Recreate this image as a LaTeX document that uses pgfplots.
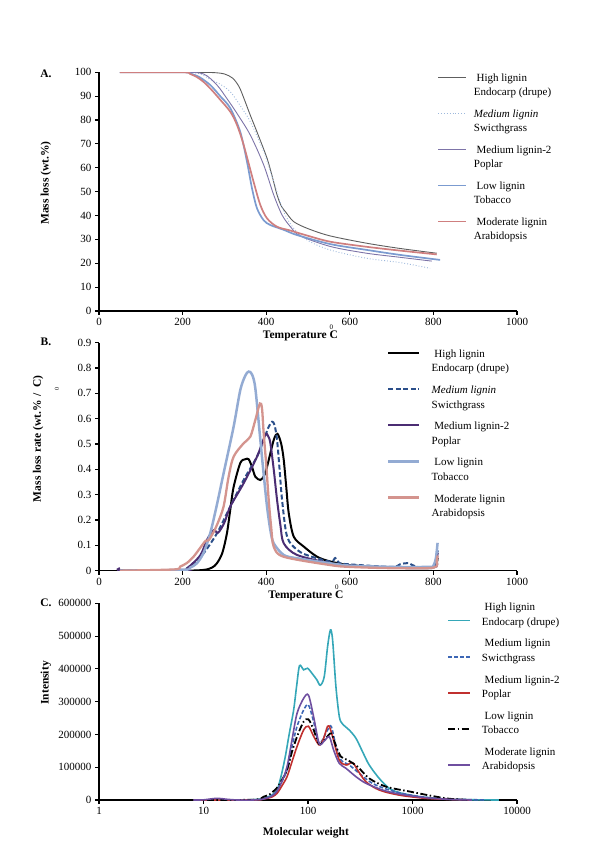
\documentclass[border=0pt]{standalone}
\usepackage{pgfplots}
\pgfplotsset{compat=1.18}
\usepackage{fontspec}
\setmainfont{Liberation Serif}

\definecolor{aHigh}{HTML}{5E5E5E}
\definecolor{aMed}{HTML}{9DB8DC}
\definecolor{aMedTwo}{HTML}{7D74A8}
\definecolor{aLow}{HTML}{7B9BD0}
\definecolor{aMod}{HTML}{CF7F7F}
\definecolor{bMed}{HTML}{2B4F8A}
\definecolor{bMedTwo}{HTML}{4B2D73}
\definecolor{bLow}{HTML}{93ABD3}
\definecolor{bMod}{HTML}{D4948E}
\definecolor{cHigh}{HTML}{35A7B8}
\definecolor{cMed}{HTML}{3D67B5}
\definecolor{cMedTwo}{HTML}{C0302F}
\definecolor{cMod}{HTML}{6F4FA0}

\pgfplotsset{
  common/.style={
    scale only axis, width=418pt,
    axis lines=left, axis line style={-, line width=1.3pt, black},
    tick align=outside, major tick length=4pt,
    tick style={line width=1.1pt, black},
    tick label style={font=\fontsize{11}{13}\selectfont},
    /pgf/number format/assume math mode=true,
    /pgf/number format/1000 sep={},
    label style={font=\bfseries\fontsize{11.5}{13}\selectfont},
    legend cell align=left,
    legend style={draw=none, fill=none, inner sep=0pt, row sep=7pt,
      nodes={inner sep=1pt}, font=\fontsize{11}{14.5}\selectfont},
  },
}

\begin{document}
\begin{tikzpicture}
\path[use as bounding box] (0pt,0pt) rectangle (600pt,844pt);

% ---------------- Panel A ----------------
\begin{axis}[common, at={(99pt,533pt)}, anchor=south west, height=238.7pt,
  xmin=0, xmax=1000, ymin=0, ymax=100,
  xtick={0,200,...,1000}, ytick={0,10,...,100},
  xlabel={Temperature \makebox[0pt][l]{\raisebox{1.7ex}{\normalfont\fontsize{7}{8}\selectfont 0}}C},
  ylabel={Mass loss (wt.\%)},
  xlabel style={at={(axis description cs:0.482,-0.09)}, anchor=center},
  ylabel style={at={(axis description cs:-0.127,0.536)}, anchor=center},
  legend style={at={(0.8086,1.0096)}, anchor=north west, column sep=6pt, row sep=7.8pt},
  legend image code/.code={\draw[#1] (0pt,6.5pt) -- (28pt,6.5pt);},
]
\addplot[aHigh, line width=0.9pt, smooth] coordinates {
(50,100)(200,100)(270,99.9)(300,99.3)(320,97.5)(335,94)(346,89.4)(362,82)(378,75)(402,64)(415,56)(426,48.6)(436,44)(446,41.6)(466,37.4)(500,34.5)(552,31.5)(640,28.4)(720,26.2)(808,24.2)};
\addplot[aMed, line width=0.9pt, dotted, smooth] coordinates {
(50,100)(200,100)(240,99.5)(266,97)(290,95)(314,91.9)(338,86)(362,79.3)(394,66.8)(418,54.2)(442,41.6)(466,34.6)(500,29.5)(554,25.5)(640,22.1)(720,20.3)(792,17.9)};
\addplot[aMedTwo, line width=0.9pt, smooth] coordinates {
(50,100)(200,100)(250,99.3)(282,94.7)(306,89)(330,82.8)(362,73.7)(394,61.2)(418,48.6)(438,40.2)(458,35.3)(481,31.5)(554,27)(640,24.2)(720,22.5)(796,20.9)};
\addplot[aLow, line width=1.7pt, smooth] coordinates {
(50,100)(200,100)(218,99.5)(240,98)(266,94.7)(290,90)(314,85)(338,75)(354,62.6)(366,51.4)(378,43)(394,38)(410,36)(442,34)(474,31.8)(554,28)(640,25.6)(720,23.5)(816,21.4)};
\addplot[aMod, line width=1.7pt, smooth] coordinates {
(50,100)(200,100)(218,99.3)(234,98)(250,96)(270,92.5)(290,88.5)(314,83.5)(330,78)(346,69.6)(370,54)(386,44.4)(402,38.8)(426,35.3)(458,33.7)(500,31.5)(554,29)(640,26.9)(720,25.3)(808,23.7)};
\legend{
{\begin{tabular}[b]{@{}l@{}}\ High lignin\\Endocarp (drupe)\end{tabular}},
{\begin{tabular}[b]{@{}l@{}}\textit{Medium lignin}\\Swicthgrass\end{tabular}},
{\begin{tabular}[b]{@{}l@{}}\ Medium lignin-2\\Poplar\end{tabular}},
{\begin{tabular}[b]{@{}l@{}}\ Low lignin\\Tobacco\end{tabular}},
{\begin{tabular}[b]{@{}l@{}}\ Moderate lignin\\Arabidopsis\end{tabular}}}
\end{axis}

% ---------------- Panel B ----------------
\begin{axis}[common, at={(99pt,273.3pt)}, anchor=south west, height=228pt,
  xmin=0, xmax=1000, ymin=0, ymax=0.9,
  xtick={0,200,...,1000}, ytick={0,0.1,...,0.9},
  yticklabel style={/pgf/number format/fixed, /pgf/number format/precision=1},
  xlabel={Temperature \makebox[0pt][l]{\raisebox{1.7ex}{\normalfont\fontsize{7}{8}\selectfont 0}}C},
  ylabel={Mass loss rate (wt.\% / \raisebox{-18pt}{\normalfont\fontsize{6}{7}\selectfont 0}C)},
  xlabel style={at={(axis description cs:0.495,-0.098)}, anchor=center},
  ylabel style={at={(axis description cs:-0.127,0.578)}, anchor=center},
  legend style={at={(0.689,0.985)}, anchor=north west, column sep=10pt, row sep=8pt},
  legend image code/.code={\draw[#1] (0pt,7.5pt) -- (31pt,7.5pt);},
]
\addplot[black, line width=2pt, smooth] coordinates {
(50,0)(200,0)(250,0.003)(270,0.012)(282,0.029)(295,0.07)(306,0.147)(314,0.24)(322,0.33)(338,0.425)(350,0.44)(358,0.44)(366,0.41)(374,0.371)(386,0.358)(395,0.375)(402,0.41)(418,0.516)(427,0.54)(436,0.5)(442,0.437)(448,0.33)(454,0.226)(466,0.134)(490,0.095)(522,0.055)(554,0.036)(600,0.022)(700,0.012)(790,0.01)(800,0.015)(808,0.03)(810,0.05)};
\addplot[bMed, line width=2pt, dash pattern=on 5pt off 2.5pt, smooth] coordinates {
(50,0)(200,0.003)(210,0.009)(230,0.035)(250,0.068)(282,0.147)(314,0.253)(346,0.358)(378,0.45)(394,0.516)(406,0.568)(414,0.588)(420,0.575)(426,0.516)(432,0.4)(438,0.279)(450,0.134)(474,0.082)(500,0.06)(554,0.036)(565,0.05)(575,0.03)(600,0.025)(700,0.015)(720,0.025)(740,0.03)(760,0.015)(800,0.015)(808,0.05)(810,0.08)};
\addplot[bMedTwo, line width=2pt, smooth] coordinates {
(50,0.01)(55,0)(200,0.003)(210,0.008)(242,0.06)(258,0.121)(274,0.16)(285,0.15)(300,0.19)(314,0.253)(346,0.345)(378,0.45)(398,0.536)(405,0.53)(410,0.503)(418,0.4)(426,0.279)(434,0.18)(442,0.108)(474,0.062)(554,0.029)(600,0.02)(700,0.012)(800,0.012)(808,0.04)(810,0.07)};
\addplot[bLow, line width=2.5pt, smooth] coordinates {
(50,0)(200,0.003)(218,0.012)(234,0.029)(250,0.07)(266,0.147)(282,0.26)(298,0.384)(322,0.568)(338,0.713)(350,0.77)(358,0.786)(366,0.775)(374,0.72)(386,0.516)(394,0.38)(402,0.253)(410,0.16)(418,0.108)(442,0.062)(474,0.049)(554,0.029)(600,0.02)(700,0.015)(790,0.015)(800,0.02)(806,0.05)(810,0.11)};
\addplot[bMod, line width=2.3pt, smooth] coordinates {
(50,0)(180,0.005)(194,0.016)(210,0.03)(226,0.055)(242,0.09)(255,0.118)(262,0.12)(270,0.14)(282,0.18)(298,0.253)(310,0.37)(322,0.45)(346,0.503)(362,0.529)(374,0.595)(385,0.66)(390,0.64)(394,0.542)(400,0.42)(406,0.279)(412,0.17)(418,0.095)(442,0.055)(554,0.022)(600,0.015)(700,0.01)(800,0.012)(808,0.04)(810,0.06)};
\legend{
{\begin{tabular}[b]{@{}l@{}}\ High lignin\\Endocarp (drupe)\end{tabular}},
{\begin{tabular}[b]{@{}l@{}}\textit{Medium lignin}\\Swicthgrass\end{tabular}},
{\begin{tabular}[b]{@{}l@{}}\ Medium lignin-2\\Poplar\end{tabular}},
{\begin{tabular}[b]{@{}l@{}}\ Low lignin\\Tobacco\end{tabular}},
{\begin{tabular}[b]{@{}l@{}}\ Moderate lignin\\Arabidopsis\end{tabular}}}
\end{axis}

% ---------------- Panel C ----------------
\begin{axis}[common, at={(99pt,44pt)}, anchor=south west, height=196.7pt,
  xmode=log, xmin=1, xmax=10000, ymin=0, ymax=600000,
  xtick={1,10,100,1000,10000}, xticklabels={1,10,100,1000,10000},
  xminorticks=false,
  ytick={0,100000,...,600000}, scaled y ticks=false,
  yticklabel style={/pgf/number format/fixed},
  xlabel={Molecular weight}, ylabel={Intensity},
  xlabel style={at={(axis description cs:0.495,-0.168)}, anchor=center},
  ylabel style={at={(axis description cs:-0.127,0.595)}, anchor=center},
  legend style={at={(0.8325,1.02)}, anchor=north west, column sep=10pt, row sep=8pt},
  legend image code/.code={\draw[#1] (0pt,-7pt) -- (22pt,-7pt);},
]
\addplot[cHigh, line width=1.6pt, smooth] coordinates {
(8,0)(20,0)(30,1000)(37.6,5000)(45,15000)(50.5,30500)(55,70000)(60.6,132000)(66,200000)(72.9,274600)(78,350000)(83,410000)(90.9,397000)(99,402000)(110,385000)(122,366000)(131,350000)(143,376000)(154,468000)(164,519000)(172,488000)(185,346000)(199.5,254000)(214,232000)(248,213600)(288,188000)(333,147000)(385,107000)(480,66000)(598,35600)(745,22400)(1075,12200)(1795,4000)(3230,1000)(6700,0)};
\addplot[cMed, line width=1.6pt, dash pattern=on 4pt off 2pt, smooth] coordinates {
(8,0)(30,0)(37.6,4000)(45,12000)(50,25000)(56,55000)(63,91500)(70,160000)(78.5,224000)(90.8,274600)(101,290000)(113,240000)(128,173000)(154,213600)(167,224000)(186,163000)(207,122000)(248,106800)(310,81000)(412,51000)(598,30500)(954,15000)(1550,6000)(2890,2000)(5000,0)};
\addplot[cMedTwo, line width=1.6pt, smooth] coordinates {
(8,0)(30,0)(37.6,3000)(45,9000)(50.5,20000)(56,42000)(63,71000)(70,115000)(78.5,163000)(90.8,213600)(101,225000)(113,195000)(128,168000)(140,185000)(154,225000)(162,220000)(172,193000)(199,122000)(231,106800)(267,114000)(298,91500)(358,56000)(480,30500)(745,15000)(1340,5000)(2230,2000)(3500,0)};
\addplot[black, line width=1.8pt, dash pattern=on 7pt off 2.5pt on 1.5pt off 2.5pt, smooth] coordinates {
(8,0)(30,1000)(37.6,10000)(42,15000)(50,35600)(56,60000)(63,91500)(70,145000)(78.5,193000)(90.8,239000)(101,246000)(113,215000)(128,170000)(148,188000)(167,203000)(186,163000)(207,132000)(239,122000)(298,101700)(385,66000)(557,40700)(954,25400)(1550,12200)(2230,4000)(3500,0)};
\addplot[cMod, line width=1.6pt, smooth] coordinates {
(8,0)(10,500)(13.4,5000)(17,2000)(21,0)(30,0)(37.6,3000)(45,12000)(50,25000)(56,55000)(63,101700)(70,180000)(78.5,264000)(90.8,310000)(101,320000)(113,255000)(128,172000)(143,180000)(160,193000)(176,152000)(199,112000)(231,96600)(288,71000)(358,51000)(517,30500)(745,18300)(1340,7000)(2230,2000)(3700,0)};
\legend{
{\begin{tabular}[b]{@{}l@{}}\ High lignin\\Endocarp (drupe)\end{tabular}},
{\begin{tabular}[b]{@{}l@{}}\ Medium lignin\\Swicthgrass\end{tabular}},
{\begin{tabular}[b]{@{}l@{}}\ Medium lignin-2\\Poplar\end{tabular}},
{\begin{tabular}[b]{@{}l@{}}\ Low lignin\\Tobacco\end{tabular}},
{\begin{tabular}[b]{@{}l@{}}\ Moderate lignin\\Arabidopsis\end{tabular}}}
\end{axis}

\node[font=\bfseries\fontsize{11.5}{13}\selectfont] at (46pt,770pt) {A.};
\node[font=\bfseries\fontsize{11.5}{13}\selectfont] at (46pt,502.3pt) {B.};
\node[font=\bfseries\fontsize{11.5}{13}\selectfont] at (46pt,241.3pt) {C.};
\end{tikzpicture}
\end{document}
